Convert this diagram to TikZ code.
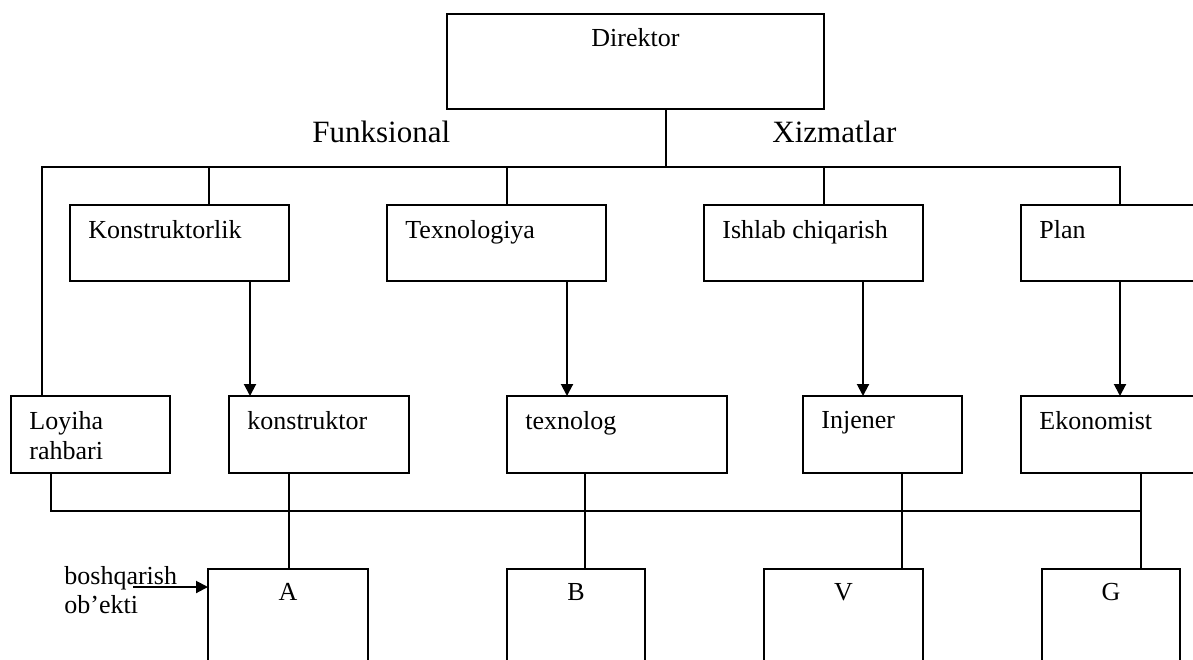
\documentclass[tikz,border=0pt]{standalone}
\usepackage{fontspec}
\setmainfont{Liberation Serif}
\usetikzlibrary{arrows.meta}

\begin{document}
\begin{tikzpicture}[x=0.5pt, y=-0.5pt,
  box/.style={draw, line width=1pt, rectangle, inner sep=0pt, outer sep=0pt, anchor=north west},
  sz/.style 2 args={minimum width=#1*0.5pt, minimum height=#2*0.5pt},
  lbl/.style={font=\fontsize{13}{15}\selectfont, inner sep=0pt, align=left},
  tl/.style={label={[lbl,anchor=north west,xshift=9pt,yshift=-7.5pt]north west:#1}},
  tc/.style={label={[lbl,anchor=north,yshift=-7pt]north:#1}},
  link/.style={line width=1pt},
  arr/.style={line width=1pt, -{Triangle[width=6pt,length=6pt]}},
  head/.style={font=\fontsize{15.5}{18}\selectfont, inner sep=0pt, anchor=base west}]
\useasboundingbox (0,0) rectangle (1193,659);
\clip (0,0) rectangle (1193,659);

% top: director
\node[box, sz={377}{95}, tc=Direktor] (dir) at (447,14) {};
\node[head] (fun) at (312,142) {Funksional};
\node[head] (xiz) at (772,142) {Xizmatlar};

% functional services
\node[box, sz={219}{76}, tl=Konstruktorlik] (kon) at (70,205) {};
\node[box, sz={219}{76}, tl=Texnologiya] (tex) at (387,205) {};
\node[box, sz={219}{76}, tl=Ishlab chiqarish] (ish) at (704,205) {};
\node[box, sz={219}{76}, tl=Plan] (pln) at (1021,205) {};

% specialists
\node[box, sz={159}{77}, tl={Loyiha\\rahbari}] (loy) at (11,396) {};
\node[box, sz={180}{77}, tl=konstruktor] (kst) at (229,396) {};
\node[box, sz={220}{77}, tl=texnolog] (tgl) at (507,396) {};
\node[box, sz={159}{77}, tl=Injener] (inj) at (803,396) {};
\node[box, sz={200}{77}, tl=Ekonomist] (eko) at (1021,396) {};

% managed objects
\node[box, sz={160}{130}, tc=A] (oa) at (208,569) {};
\node[box, sz={138}{130}, tc=B] (ob) at (507,569) {};
\node[box, sz={159}{130}, tc=V] (ov) at (764,569) {};
\node[box, sz={138}{130}, tc=G] (og) at (1042,569) {};

\node[lbl, anchor=north west, font=\fontsize{13}{14.5}\selectfont] (bob) at (64,566) {boshqarish\\ob’ekti};

% upper bus
\coordinate (bus1) at (666,167);
\coordinate (bl) at (42,167);
\coordinate (br) at (1120,167);
\coordinate (bk) at (209,167);
\coordinate (bt) at (507,167);
\coordinate (bi) at (824,167);
\draw[link] (dir.south -| bus1) -- (bus1);
\draw[link] (loy.north -| bl) -- (bl) -- (br) -- (pln.north -| br);
\draw[link] (bk) -- (kon.north -| bk);
\draw[link] (bt) -- (tex.north -| bt);
\draw[link] (bi) -- (ish.north -| bi);

% services to specialists
\draw[arr] ([xshift=90pt]kon.south west) coordinate (a1) -- (a1 |- kst.north);
\draw[arr] ([xshift=90pt]tex.south west) coordinate (a2) -- (a2 |- tgl.north);
\draw[arr] ([xshift=79.5pt]ish.south west) coordinate (a3) -- (a3 |- inj.north);
\draw[arr] ([xshift=49.5pt]pln.south west) coordinate (a4) -- (a4 |- eko.north);

% specialists to objects
\coordinate (bus2) at (0,511);
\draw[link] ([xshift=30pt]kst.south west) coordinate (s1) -- (s1 |- oa.north);
\draw[link] ([xshift=39pt]tgl.south west) coordinate (s2) -- (s2 |- ob.north);
\draw[link] ([xshift=49.5pt]inj.south west) coordinate (s3) -- (s3 |- ov.north);
\draw[link] ([xshift=60pt]eko.south west) coordinate (s4) -- (s4 |- og.north);
\draw[link] ([xshift=20pt]loy.south west) coordinate (s0) -- (s0 |- bus2) -- (s4 |- bus2);

% input arrow
\coordinate (inp) at (133,587);
\draw[arr] (inp) -- (inp -| oa.west);
\end{tikzpicture}
\end{document}
